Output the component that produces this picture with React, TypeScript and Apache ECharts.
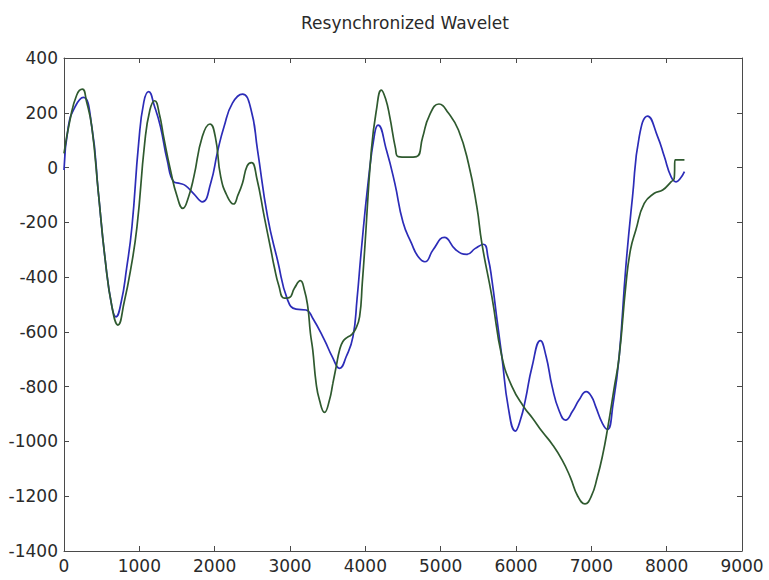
import React, { useEffect, useRef } from "react";
import * as echarts from "echarts";

// Sample index vs. amplitude for the two traces
const blueTrace: [number, number][] = [
  [0, -9], [57, 149], [147, 222], [257, 256], [369, 149], [457, -94], [547, -337],
  [636, -508], [689, -545], [760, -490], [830, -370], [902, -216], [991, 89],
  [1060, 240], [1124, 277], [1200, 225], [1280, 150], [1369, 28], [1458, -52],
  [1540, -58], [1613, -66], [1720, -95], [1836, -125], [1947, -57], [2040, 60],
  [2124, 149], [2236, 235], [2369, 268], [2480, 215], [2569, 64], [2702, -179],
  [2836, -340], [2969, -484], [3080, -517], [3213, -520], [3302, -550], [3458, -630],
  [3560, -690], [3658, -733], [3747, -690], [3836, -617], [3890, -480], [3947, -301],
  [4036, -57], [4124, 125], [4169, 155], [4280, 64], [4391, -57], [4500, -200],
  [4613, -277], [4700, -325], [4791, -344], [4900, -300], [5049, -255], [5200, -300],
  [5347, -317], [5460, -295], [5569, -280], [5630, -330], [5680, -410], [5750, -560],
  [5813, -691], [5900, -880], [5991, -962], [6060, -920], [6124, -849], [6213, -727],
  [6324, -632], [6400, -690], [6480, -800], [6569, -885], [6658, -922], [6750, -890],
  [6836, -849], [6933, -818], [7000, -835], [7058, -873], [7147, -934], [7213, -956],
  [7290, -860], [7369, -691], [7458, -362], [7547, -106], [7636, 113], [7747, 188],
  [7880, 113], [7969, 40], [8058, -33], [8124, -52], [8180, -40], [8236, -15],
];

const greenTrace: [number, number][] = [
  [0, 52], [80, 174], [169, 265], [244, 286], [300, 240], [369, 149], [457, -94],
  [547, -337], [636, -508], [716, -575], [800, -490], [880, -380], [969, -216],
  [1071, 89], [1140, 210], [1204, 244], [1270, 190], [1324, 110], [1413, -9],
  [1502, -106], [1578, -149], [1650, -110], [1724, -33], [1836, 113], [1938, 159],
  [2010, 110], [2080, -33], [2169, -106], [2249, -133], [2310, -100], [2369, -57],
  [2430, 5], [2489, 18], [2560, -40], [2658, -179], [2747, -301], [2791, -362],
  [2850, -430], [2924, -477], [2990, -475], [3060, -440], [3137, -413], [3191, -447],
  [3236, -508], [3271, -605], [3302, -666], [3347, -788], [3391, -849], [3458, -894],
  [3524, -849], [3569, -788], [3613, -727], [3658, -666], [3702, -635], [3760, -620],
  [3813, -611], [3870, -590], [3924, -544], [3960, -420], [3991, -301], [4080, 64],
  [4147, 210], [4213, 283], [4270, 250], [4324, 186], [4400, 70], [4436, 40],
  [4560, 38], [4680, 40], [4760, 110], [4850, 190], [4977, 232], [5100, 200],
  [5236, 137], [5369, 15], [5480, -143], [5547, -277], [5680, -471], [5813, -691],
  [5947, -800], [6102, -873], [6220, -915], [6347, -964], [6480, -1010], [6613, -1068],
  [6720, -1130], [6820, -1200], [6916, -1228], [7000, -1200], [7080, -1130],
  [7150, -1050], [7213, -958], [7300, -810], [7369, -691], [7458, -430], [7520, -300],
  [7591, -228], [7702, -131], [7836, -94], [7947, -82], [8058, -52], [8100, -40],
  [8112, 28], [8236, 28],
];

const xRange = { min: 0, max: 9000, step: 1000 };
const yRange = { min: -1400, max: 400, step: 200 };

const FONT = "DejaVu Sans";
const AXIS_COLOR = "#4a4a4a";
const LABEL_COLOR = "#2a2a2a";

const plain = (v: number) => String(v);

function axisBase(showLabels: boolean) {
  return {
    axisLine: { show: true, onZero: false, lineStyle: { color: AXIS_COLOR, width: 1 } },
    axisTick: { show: true, inside: true, length: 5, lineStyle: { color: AXIS_COLOR } },
    axisLabel: {
      show: showLabels,
      color: LABEL_COLOR,
      fontFamily: FONT,
      fontSize: 17,
      margin: 6,
      formatter: plain,
    },
    splitLine: { show: false },
  };
}

export default function App() {
  const ref = useRef<HTMLDivElement>(null);

  useEffect(() => {
    if (!ref.current) return;
    const chart = echarts.init(ref.current, null, { renderer: "svg" });
    chart.setOption({
      animation: false,
      backgroundColor: "#ffffff",
      title: {
        text: "Resynchronized Wavelet",
        left: 400,
        top: 9,
        textAlign: "center",
        textStyle: {
          fontFamily: FONT,
          fontSize: 17,
          fontWeight: "normal",
          color: LABEL_COLOR,
        },
      },
      grid: { left: 64, right: 27, top: 58, bottom: 29, containLabel: false },
      xAxis: [
        {
          type: "value",
          position: "bottom",
          min: xRange.min,
          max: xRange.max,
          interval: xRange.step,
          ...axisBase(true),
        },
        {
          type: "value",
          position: "top",
          min: xRange.min,
          max: xRange.max,
          interval: xRange.step,
          ...axisBase(false),
        },
      ],
      yAxis: [
        {
          type: "value",
          position: "left",
          min: yRange.min,
          max: yRange.max,
          interval: yRange.step,
          ...axisBase(true),
        },
        {
          type: "value",
          position: "right",
          min: yRange.min,
          max: yRange.max,
          interval: yRange.step,
          ...axisBase(false),
        },
      ],
      series: [
        {
          name: "blue",
          type: "line",
          data: blueTrace,
          showSymbol: false,
          smooth: 0.5,
          lineStyle: { color: "#2c2cb8", width: 1.7 },
        },
        {
          name: "green",
          type: "line",
          data: greenTrace,
          showSymbol: false,
          smooth: 0.5,
          lineStyle: { color: "#2f5a2f", width: 1.7 },
        },
      ],
    });
    return () => chart.dispose();
  }, []);

  return (
    <div
      ref={ref}
      style={{ position: "fixed", left: 0, top: 0, width: 769, height: 580 }}
    />
  );
}
